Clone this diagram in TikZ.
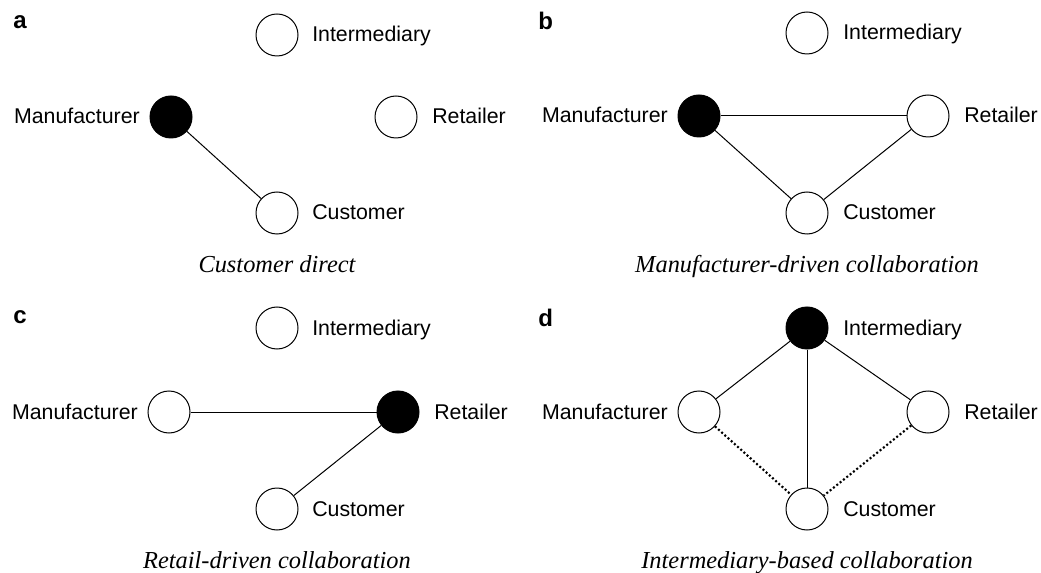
\documentclass[tikz,border=0pt]{standalone}
\usepackage{fontspec}
\setmainfont{Liberation Serif}
\setsansfont{Liberation Sans}

\begin{document}
\begin{tikzpicture}[x=0.75pt,y=0.75pt,yscale=-1,xscale=1,
  actor/.style={draw,circle,line width=0.75pt,minimum size=31.5pt,inner sep=0pt,fill=white},
  lead/.style={actor,fill=black},
  tag/.style={inner sep=0pt,font=\sffamily\fontsize{16}{19}\selectfont},
  capt/.style={inner sep=0pt,font=\itshape\fontsize{18.3}{22}\selectfont},
  panel/.style={inner sep=0pt,font=\sffamily\bfseries\fontsize{18}{21}\selectfont},
  link/.style={line width=0.75pt},
  loose/.style={line width=1.6pt,dash pattern=on 1.5pt off 1.7pt}]
%set diagram left start at 0, and has height of 573
\path[use as bounding box] (0,0) rectangle (1041,573);

%Panel a: customer direct
\node[panel,anchor=base west] (alet) at (13,29) {a};
\node[actor] (aI) at (277,35) {};
\node[lead] (aM) at (171,117) {};
\node[actor] (aR) at (396,117) {};
\node[actor] (aC) at (277,213) {};
\draw[link] (aM) -- (aC);
% Text Node
\node[tag,anchor=base west] (aIt) at (312,42) {Intermediary};
\node[tag,anchor=base east] (aMt) at (140,124) {Manufacturer};
\node[tag,anchor=base west] (aRt) at (432,124) {Retailer};
\node[tag,anchor=base west] (aCt) at (312,220) {Customer};
\node[capt,anchor=base] (acap) at (277,273) {Customer direct};

%Panel b: manufacturer-driven
\node[panel,anchor=base west] (blet) at (538,30) {b};
\node[actor] (bI) at (807,33) {};
\node[lead] (bM) at (699,116) {};
\node[actor] (bR) at (928,116) {};
\node[actor] (bC) at (807,213) {};
\draw[link] (bM) -- (bR);
\draw[link] (bM) -- (bC);
\draw[link] (bR) -- (bC);
% Text Node
\node[tag,anchor=base west] (bIt) at (843,40) {Intermediary};
\node[tag,anchor=base east] (bMt) at (668,123) {Manufacturer};
\node[tag,anchor=base west] (bRt) at (964,123) {Retailer};
\node[tag,anchor=base west] (bCt) at (843,220) {Customer};
\node[capt,anchor=base] (bcap) at (807,273) {Manufacturer-driven collaboration};

%Panel c: retail-driven
\node[panel,anchor=base west] (clet) at (13,324) {c};
\node[actor] (cI) at (277,328) {};
\node[actor] (cM) at (169,412) {};
\node[lead] (cR) at (398,412) {};
\node[actor] (cC) at (277,509) {};
\draw[link] (cM) -- (cR);
\draw[link] (cR) -- (cC);
% Text Node
\node[tag,anchor=base west] (cIt) at (312,335) {Intermediary};
\node[tag,anchor=base east] (cMt) at (138,419) {Manufacturer};
\node[tag,anchor=base west] (cRt) at (434,419) {Retailer};
\node[tag,anchor=base west] (cCt) at (312,516) {Customer};
\node[capt,anchor=base] (ccap) at (277,568) {Retail-driven collaboration};

%Panel d: intermediary-based
\node[panel,anchor=base west] (dlet) at (538,326) {d};
\node[lead] (dI) at (807,328) {};
\node[actor] (dM) at (699,412) {};
\node[actor] (dR) at (928,412) {};
\node[actor] (dC) at (807,509) {};
\draw[link] (dI) -- (dM);
\draw[link] (dI) -- (dR);
\draw[link] (dI) -- (dC);
\draw[loose] (dM) -- (dC);
\draw[loose] (dR) -- (dC);
% Text Node
\node[tag,anchor=base west] (dIt) at (843,335) {Intermediary};
\node[tag,anchor=base east] (dMt) at (668,419) {Manufacturer};
\node[tag,anchor=base west] (dRt) at (964,419) {Retailer};
\node[tag,anchor=base west] (dCt) at (843,516) {Customer};
\node[capt,anchor=base] (dcap) at (807,568) {Intermediary-based collaboration};

\end{tikzpicture}
\end{document}
